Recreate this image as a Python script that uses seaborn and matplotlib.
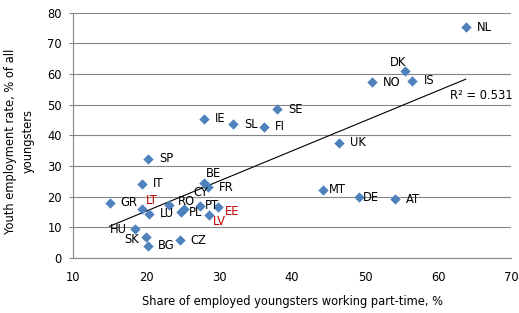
import numpy as np
import matplotlib
matplotlib.use("Agg")
import matplotlib.pyplot as plt
import seaborn as sns
import pandas as pd

# data
countries = ["NL", "DK", "NO", "IS", "SE", "IE", "SL", "FI", "UK", "SP",
             "IT", "BE", "FR", "CY", "GR", "LT", "LU", "RO", "PL", "PT",
             "LV", "EE", "HU", "SK", "BG", "CZ", "MT", "DE", "AT"]
part_time = [63.8, 55.5, 50.9, 56.5, 38.0, 27.9, 31.9, 36.2, 46.4, 20.3,
             19.5, 27.9, 28.5, 25.2, 15.0, 19.5, 20.4, 23.2, 24.8, 27.4,
             28.6, 29.9, 18.5, 20.0, 20.3, 24.6, 44.3, 49.2, 54.1]
employment = [75.2, 61.1, 57.2, 57.8, 48.5, 45.3, 43.6, 42.7, 37.6, 32.3,
              24.2, 24.4, 23.1, 15.9, 18.0, 16.1, 14.5, 17.2, 15.0, 16.9,
              13.9, 16.6, 9.3, 6.7, 4.0, 5.8, 22.0, 19.8, 19.2]
red_labels = ["LT", "LV", "EE"]

# label offsets in pixels (dx, dy, ha); default is to the right of the point
label_pos = {
    "DK": (-7, 8, "center"), "BE": (10, 10, "center"), "CY": (17, 17, "center"),
    "LT": (9, 8, "center"), "HU": (-17, 0, "center"), "SK": (-14, -2, "center"),
    "LV": (11, -6, "center"), "EE": (14, -4, "center"), "RO": (8, 4, "left"),
    "MT": (5, 1, "left"), "DE": (4, 0, "left"), "PT": (5, 1, "left"),
    "PL": (8, -1, "left"), "BG": (10, 0, "left"),
}

FS = 8.3

df = pd.DataFrame({"country": countries, "x": part_time, "y": employment})

fig = plt.figure(figsize=(5.19, 3.13), dpi=100)
ax = fig.add_axes([0.1407, 0.1757, 0.8439, 0.7843])

sns.regplot(data=df, x="x", y="y", scatter=False, ci=None, truncate=True,
            line_kws={"color": "black", "lw": 0.8}, ax=ax)
sns.scatterplot(data=df, x="x", y="y", marker="D", s=28, color="#4F81BD",
                edgecolor="#4F81BD", linewidth=0, ax=ax, zorder=3)

for c, xv, yv in zip(countries, part_time, employment):
    dx, dy, ha = label_pos.get(c, (11, 0, "left"))
    ax.annotate(c, (xv, yv), xytext=(dx, dy), textcoords="offset pixels",
                ha=ha, va="center", fontsize=FS,
                color="#C00000" if c in red_labels else "black")

# R squared of the linear fit
slope, intercept = np.polyfit(part_time, employment, 1)
pred = slope * np.array(part_time) + intercept
r2 = 1 - np.sum((np.array(employment) - pred) ** 2) / np.sum((np.array(employment) - np.mean(employment)) ** 2)
ax.text(66.0, 53.0, "R² = 0.531", ha="center", va="center", fontsize=FS)

ax.set_xlim(10, 70)
ax.set_ylim(0, 80)
ax.set_xticks(range(10, 71, 10))
ax.set_yticks(range(0, 81, 10))
ax.yaxis.grid(True, color="#868686", lw=0.8)
ax.set_axisbelow(True)
for s in ["top", "right"]:
    ax.spines[s].set_visible(False)
for s in ["left", "bottom"]:
    ax.spines[s].set_color("#868686")
    ax.spines[s].set_linewidth(0.8)
ax.tick_params(axis="y", length=3, color="#868686", labelsize=FS, pad=5)
ax.tick_params(axis="x", length=0, labelsize=FS, pad=9)
ax.set_xlabel("Share of employed youngsters working part-time, %", fontsize=FS, labelpad=8)
ax.set_ylabel("Youth employment rate, % of all\nyoungsters", fontsize=FS,
              linespacing=1.45)
ax.yaxis.set_label_coords(-0.087, 0.477)

fig.savefig("out.png", dpi=100)
